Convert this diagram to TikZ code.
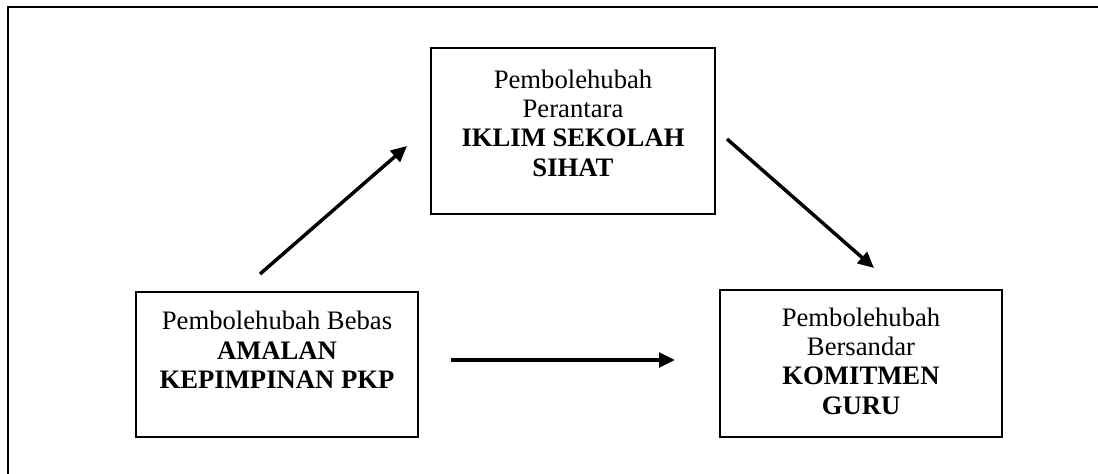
\documentclass[tikz,border=0pt]{standalone}
\usepackage{fontspec}
\setmainfont{Liberation Serif}
\usetikzlibrary{arrows.meta}
\begin{document}
\begin{tikzpicture}[x=0.75pt,y=-0.75pt,
  frameline/.style={draw,line width=1.5pt},
  vartext/.style={align=center,font=\fontsize{20}{22}\selectfont,inner sep=0pt},
  flow/.style={line width=2.6pt,-{Triangle[length=12pt,width=11pt]}}]
\useasboundingbox (0,0) rectangle (1098,474);
\clip (0,0) rectangle (1098,474);
% outer frame (right and bottom sides run past the page edge)
\draw[line width=2pt] (8,7) rectangle (1130,500);
% variable boxes
\draw[frameline] (431,48) rectangle (715,214);
\draw[frameline] (136,292) rectangle (418,437);
\draw[frameline] (720,290) rectangle (1002,437);
% box texts
\node[vartext] (midtxt) at (573,123) {Pembolehubah\\Perantara\\\textbf{IKLIM SEKOLAH}\\\textbf{SIHAT}};
\node[vartext] (indeptxt) at (277,350) {Pembolehubah Bebas\\\textbf{AMALAN}\\\textbf{KEPIMPINAN PKP}};
\node[vartext] (deptxt) at (861,361) {Pembolehubah\\Bersandar\\\textbf{KOMITMEN}\\\textbf{GURU}};
% arrow end points
\coordinate (a1) at (260,274);
\coordinate (b1) at (407,146);
\coordinate (a2) at (727,139);
\coordinate (b2) at (874,268);
\coordinate (a3) at (451,360);
\coordinate (b3) at (675,360);
\draw[flow] (a1) -- (b1);
\draw[flow] (a2) -- (b2);
\draw[flow] (a3) -- (b3);
\end{tikzpicture}
\end{document}
